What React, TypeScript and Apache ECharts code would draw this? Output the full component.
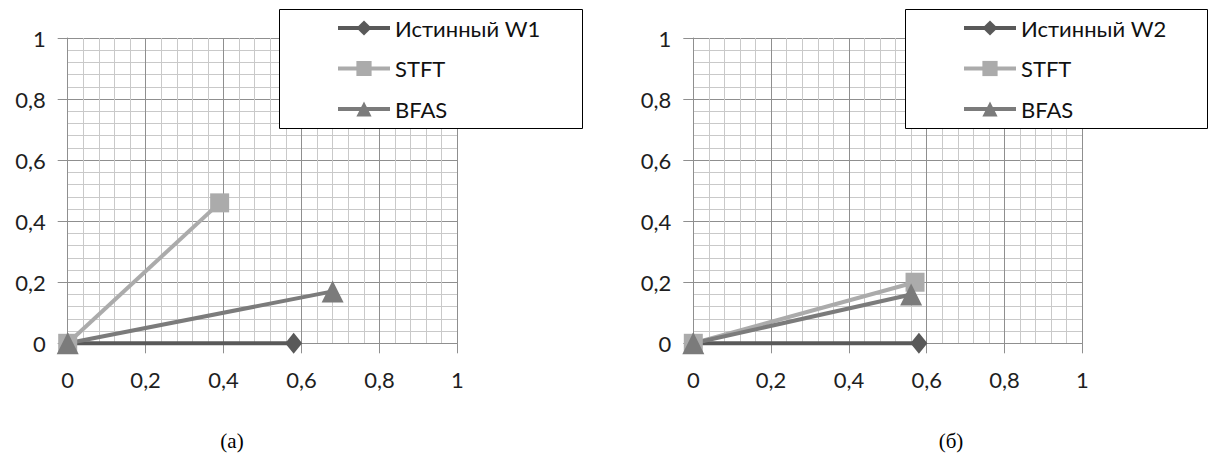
import React, { useEffect, useRef } from "react";
import * as echarts from "echarts";

// Axis ticks (both panels share the same 0..1 scales)
const tickValues = [0, 0.2, 0.4, 0.6, 0.8, 1];

// Panel (а): end points of each estimate, every line starts at the origin
const trueW1 = [[0, 0], [0.58, 0]];
const stftA = [[0, 0], [0.39, 0.46]];
const bfasA = [[0, 0], [0.68, 0.17]];

// Panel (б)
const trueW2 = [[0, 0], [0.58, 0]];
const stftB = [[0, 0], [0.57, 0.2]];
const bfasB = [[0, 0], [0.56, 0.16]];

const seriesNames = { true1: "Истинный W1", true2: "Истинный W2", stft: "STFT", bfas: "BFAS" };
const captions = ["(а)", "(б)"];

const FONT = "Lato, 'Open Sans', sans-serif";
const MAJOR = "#8f8f8f";
const MINOR = "#c9c9c9";
const C_TRUE = "#595959";
const C_STFT = "#ababab";
const C_BFAS = "#7b7b7b";

const fmt = (v: number) => String(Math.round(v * 10) / 10).replace(".", ",");

function axisBase(gridIndex: number, isX: boolean) {
  return {
    gridIndex,
    type: "value" as const,
    min: tickValues[0],
    max: tickValues[tickValues.length - 1],
    interval: tickValues[1] - tickValues[0],
    axisLine: { show: true, onZero: false, lineStyle: { color: MAJOR, width: 1 } },
    axisTick: { show: true, length: 10, lineStyle: { color: MAJOR, width: 1 } },
    axisLabel: {
      margin: isX ? 25 : 22,
      fontSize: 22,
      fontFamily: FONT,
      color: "#1e1e1e",
      formatter: fmt,
    },
    splitLine: { show: true, lineStyle: { color: MAJOR, width: 1 } },
    minorTick: { show: false, splitNumber: 5 },
    minorSplitLine: { show: true, lineStyle: { color: MINOR, width: 1 } },
  };
}

function lineSeries(name: string, data: number[][], idx: number, symbol: string, size: any, color: string) {
  return {
    name,
    type: "line" as const,
    xAxisIndex: idx,
    yAxisIndex: idx,
    data,
    symbol,
    symbolSize: size,
    showAllSymbol: true,
    clip: false,
    color,
    itemStyle: { color },
    lineStyle: { color, width: 4 },
  };
}

export default function App() {
  const ref = useRef<HTMLDivElement>(null);

  useEffect(() => {
    if (!ref.current) return;
    const chart = echarts.init(ref.current, undefined, { renderer: "svg" });

    const legendCommon = {
      orient: "vertical" as const,
      top: 12,
      itemWidth: 52,
      itemHeight: 19,
      itemGap: 18.5,
      selectedMode: false,
      lineStyle: { width: 4 },
      textStyle: { fontSize: 22, lineHeight: 20, fontFamily: FONT, color: "#111111" },
      z: 5,
    };

    chart.setOption({
      animation: false,
      backgroundColor: "#ffffff",
      grid: [
        { left: 67.7, right: 1219 - 457.3, top: 38, bottom: 461 - 343.3 },
        { left: 693.3, right: 1219 - 1082.3, top: 38, bottom: 461 - 343.3 },
      ],
      xAxis: [axisBase(0, true), axisBase(1, true)],
      yAxis: [axisBase(0, false), axisBase(1, false)],
      legend: [
        { ...legendCommon, left: 331, data: [seriesNames.true1, seriesNames.stft, seriesNames.bfas] },
        { ...legendCommon, left: 957, data: [seriesNames.true2, seriesNames.stft, seriesNames.bfas] },
      ],
      graphic: [
        {
          type: "rect",
          z: 3,
          shape: { x: 279.5, y: 9.5, width: 303, height: 119 },
          style: { fill: "#ffffff", stroke: "#000000", lineWidth: 1 },
        },
        {
          type: "rect",
          z: 3,
          shape: { x: 905.5, y: 9.5, width: 302, height: 119 },
          style: { fill: "#ffffff", stroke: "#000000", lineWidth: 1 },
        },
        {
          type: "text",
          x: 232,
          y: 441,
          style: {
            text: captions[0],
            font: "21px 'Liberation Serif', serif",
            fill: "#000000",
            align: "center",
            verticalAlign: "middle",
          },
        },
        {
          type: "text",
          x: 951,
          y: 441,
          style: {
            text: captions[1],
            font: "21px 'Liberation Serif', serif",
            fill: "#000000",
            align: "center",
            verticalAlign: "middle",
          },
        },
      ],
      series: [
        lineSeries(seriesNames.true1, trueW1, 0, "diamond", [17, 21], C_TRUE),
        lineSeries(seriesNames.stft, stftA, 0, "rect", 19, C_STFT),
        lineSeries(seriesNames.bfas, bfasA, 0, "triangle", 22, C_BFAS),
        lineSeries(seriesNames.true2, trueW2, 1, "diamond", [17, 21], C_TRUE),
        lineSeries(seriesNames.stft, stftB, 1, "rect", 19, C_STFT),
        lineSeries(seriesNames.bfas, bfasB, 1, "triangle", 22, C_BFAS),
      ],
    });

    return () => chart.dispose();
  }, []);

  return (
    <div
      ref={ref}
      style={{ position: "fixed", left: 0, top: 0, width: 1219, height: 461, background: "#fff" }}
    />
  );
}
